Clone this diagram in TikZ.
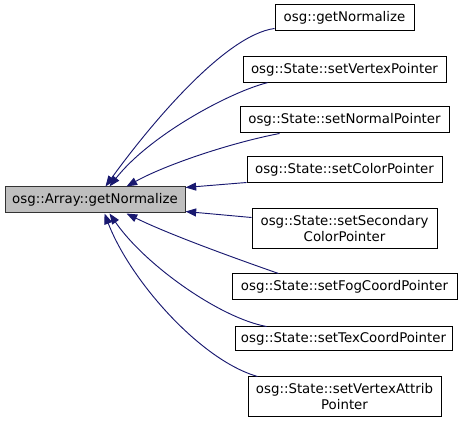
\documentclass[tikz,border=0pt]{standalone}
\usepackage{fontspec}
\setmainfont{DejaVu Sans}
\usetikzlibrary{arrows.meta,calc}
\definecolor{edgeblue}{RGB}{25,25,112}
\definecolor{mainfill}{RGB}{191,191,191}
\begin{document}
\begin{tikzpicture}[x=0.75pt,y=-0.75pt,
  box/.style={draw=black,line width=0.75pt,fill=white,inner sep=0pt,font=\fontsize{10}{12}\selectfont,align=center},
  mainbox/.style={box,fill=mainfill,draw=black!80},
  edge/.style={draw=edgeblue,line width=0.7pt,-{Triangle[length=8pt,width=6pt]}}]
\useasboundingbox (0,0) rectangle (461,423);
\node[mainbox,minimum width=135pt,minimum height=19.5pt] (main) at (95,200) {osg::Array::getNormalize};
\node[box,minimum width=104.25pt,minimum height=19.5pt] (t1) at (344.5,18) {osg::getNormalize};
\node[box,minimum width=152.25pt,minimum height=19pt] (t2) at (344.5,69.5) {osg::State::setVertexPointer};
\node[box,minimum width=156.75pt,minimum height=19.5pt] (t3) at (344.5,120) {osg::State::setNormalPointer};
\node[box,minimum width=146.25pt,minimum height=19.5pt] (t4) at (344.5,170) {osg::State::setColorPointer};
\node[box,minimum width=138.75pt,minimum height=30pt] (t5) at (344.5,229) {osg::State::setSecondary\\ColorPointer};
\node[box,minimum width=168.75pt,minimum height=19.5pt] (t6) at (344.5,287) {osg::State::setFogCoordPointer};
\node[box,minimum width=162.75pt,minimum height=18pt] (t7) at (343.5,339) {osg::State::setTexCoordPointer};
\node[box,minimum width=144.75pt,minimum height=30pt] (t8) at (344.5,397) {osg::State::setVertexAttrib\\Pointer};
\draw[edge] ($(t1.south west)+(0,-3)$) .. controls (225,35) and (150,125) .. ($(main.north west)+(101,0)$);
\draw[edge] ($(t2.south west)+(25,0)$) .. controls (230,92) and (150,135) .. ($(main.north west)+(105,0)$);
\draw[edge] ($(t3.south west)+(40,0)$) .. controls (230,143) and (165,165) .. ($(main.north west)+(122,0)$);
\draw[edge] ($(t4.south west)+(0,-1)$) -- ($(main.north east)+(0,1)$);
\draw[edge] ($(t5.north west)+(0,9)$) -- ($(main.south east)+(0,-2)$);
\draw[edge] ($(t6.north west)+(47,0)$) .. controls (240,260) and (170,235) .. ($(main.south west)+(122,0)$);
\draw[edge] ($(t7.north west)+(32,0)$) .. controls (220,318) and (145,265) .. ($(main.south west)+(105,0)$);
\draw[edge] ($(t8.north west)+(10,0)$) .. controls (200,360) and (130,280) .. ($(main.south west)+(100,0)$);
\end{tikzpicture}
\end{document}
